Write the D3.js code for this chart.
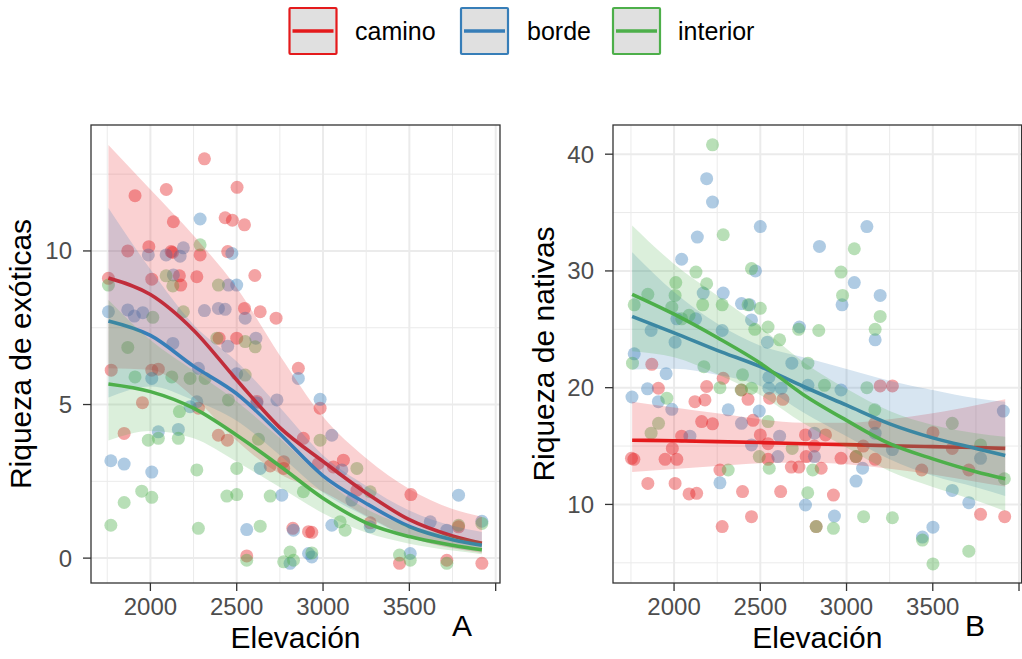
<!DOCTYPE html>
<html><head><meta charset="utf-8">
<script src="https://cdn.jsdelivr.net/npm/d3@7"></script>
<style>html,body{margin:0;padding:0;background:#fff;}svg{display:block;font-family:"Liberation Sans",Arial,sans-serif;}</style>
</head><body>
<svg id="chart" width="1022" height="659"></svg>
<script>
// ---------- DATA ----------
const groups = ["camino", "borde", "interior"];
const groupColors = ["#E41A1C", "#377EB8", "#4DAF4A"];
const xTicks = [2000, 2500, 3000, 3500, 4000];
const xTickLabels = ["2000", "2500", "3000", "3500", ""];
const xMinor = [1750, 2250, 2750, 3250, 3750];
const yTicksA = [0, 5, 10];
const yMinorA = [2.5, 7.5, 12.5];
const yTicksB = [10, 20, 30, 40];
const yMinorB = [5, 15, 25, 35];

// Panel A: riqueza de exóticas  [elevación, riqueza]
const exoCamino = [[2313,13.0],[1911,11.8],[2092,12.0],[2502,12.07],[2133,10.95],[2433,11.08],[2475,11.0],[2545,10.85],[1869,10.0],[1991,10.14],[2120,9.98],[2128,9.95],[2288,9.87],[2448,9.98],[1757,9.11],[2008,9.08],[2168,9.19],[2176,8.89],[2269,9.16],[2605,9.2],[2545,8.13],[2636,8.02],[2728,7.81],[2398,7.16],[2500,7.16],[1773,6.12],[2008,6.12],[2046,6.15],[2857,6.18],[1954,5.06],[2278,4.88],[1848,4.06],[2394,4.0],[2446,3.84],[2694,3.0],[2772,3.14],[2772,2.92],[2886,3.9],[2825,0.97],[2558,0.07],[2916,0.86],[2983,4.88],[2973,3.08],[3060,2.97],[3118,3.19],[3196,2.21],[2935,0.84],[3509,2.07],[3785,1.02],[3443,-0.17],[3717,-0.07],[3920,-0.17],[2617,5.1],[3273,1.15]];
const exoBorde = [[2288,11.04],[2191,10.1],[1988,9.87],[2091,9.87],[2172,9.83],[2472,9.92],[2133,9.22],[2452,8.89],[2500,8.89],[1757,8.02],[1869,8.08],[1907,7.88],[1956,7.99],[2313,8.06],[2394,8.13],[2433,8.1],[2549,7.81],[2130,6.99],[2448,6.9],[2611,7.16],[2278,6.18],[2857,5.85],[2008,5.85],[2500,6.0],[2269,5.09],[2230,4.93],[2046,4.11],[2162,4.19],[1771,3.17],[1848,3.06],[2008,2.8],[2617,5.05],[2733,5.15],[2636,2.92],[2761,2.05],[2558,0.93],[2829,0.91],[2809,-0.17],[2916,0.15],[2983,5.17],[3051,4.0],[3109,2.87],[3167,1.89],[3051,1.07],[3273,1.02],[2935,0.04],[3505,0.15],[3621,1.18],[3717,0.91],[3785,2.05],[3920,1.2]];
const exoInterior = [[2288,10.2],[2091,9.19],[2130,8.86],[1757,8.89],[2394,8.89],[2014,7.84],[2191,8.02],[1869,6.86],[2385,7.16],[2549,7.05],[2607,6.88],[1911,5.9],[2124,5.9],[2230,5.85],[2317,5.85],[2549,5.96],[2168,4.77],[2452,5.15],[1988,3.84],[2046,3.9],[2162,3.9],[2626,3.87],[2269,2.87],[2500,2.92],[1950,2.18],[2008,1.98],[1848,1.81],[2443,2.02],[2500,2.07],[2694,2.02],[1771,1.07],[2278,0.97],[2636,1.04],[2558,-0.07],[2772,-0.12],[2809,0.2],[2829,-0.07],[2886,2.16],[2983,3.84],[3196,2.92],[3099,1.18],[3128,0.91],[3273,2.16],[3443,0.1],[3505,-0.07],[3717,-0.17],[3785,1.07],[3920,1.13],[2935,0.17]];

// Panel B: riqueza de nativas
const natCamino = [[1871,22.0],[1909,19.95],[2189,20.1],[2285,20.8],[2121,18.8],[2179,18.95],[2391,19.8],[2429,19.0],[2554,19.1],[2631,19.0],[2160,17.1],[2223,16.9],[2458,17.2],[2500,15.95],[2044,15.85],[1990,14.8],[1753,13.95],[1767,13.86],[1948,13.86],[2016,13.86],[2266,12.95],[2545,15.2],[2545,13.86],[2680,13.2],[2724,13.2],[2762,15.95],[2766,14.1],[1848,11.8],[2006,11.8],[2087,10.9],[2131,10.95],[2397,11.1],[2618,11.1],[2279,8.1],[2449,8.95],[2824,8.1],[3195,20.15],[3266,20.15],[3164,16.95],[2878,15.95],[3097,15.0],[2853,13.1],[2968,13.95],[3055,14.1],[3166,13.86],[3501,16.15],[3613,14.8],[3436,12.95],[3709,12.95],[2924,10.8],[3777,9.15],[3917,8.95],[2814,15.0]];
const natBorde = [[2189,37.9],[2223,35.9],[2500,33.8],[2135,32.9],[2044,31.0],[2843,32.1],[2472,30.0],[2169,28.1],[2285,28.1],[2391,27.2],[2439,27.1],[2449,25.8],[2016,25.9],[2125,25.9],[1867,24.9],[2279,24.9],[2727,25.2],[2006,23.9],[2541,23.9],[2683,22.1],[1769,22.9],[1954,21.2],[2550,20.9],[3118,33.8],[3045,29.0],[3195,27.9],[2974,27.1],[3166,24.1],[1756,19.2],[1846,19.9],[1909,18.8],[1987,18.15],[2092,15.85],[2314,18.1],[2391,16.95],[2449,15.1],[2494,18.0],[2550,19.95],[2621,19.95],[2612,15.85],[2602,14.1],[2266,11.85],[2762,9.95],[2776,20.2],[2814,14.1],[2968,19.8],[2814,16.1],[3093,13.1],[3055,12.0],[3166,16.1],[3266,14.7],[2930,9.0],[3440,7.2],[3501,8.05],[3613,11.2],[3709,10.15],[3777,13.95],[3909,18.0]];
const natInterior = [[2223,40.8],[2285,33.1],[2127,29.9],[2449,30.2],[2189,28.9],[2010,29.0],[1848,28.0],[1769,27.1],[2006,27.9],[2166,27.1],[2279,27.1],[1987,26.9],[2500,26.8],[2429,27.1],[2087,26.2],[2044,25.9],[2545,25.2],[2468,25.0],[2612,24.1],[2722,25.0],[2776,22.1],[2173,21.8],[1759,22.1],[2839,24.9],[2397,21.1],[2266,20.0],[2389,19.8],[2449,19.95],[1958,19.1],[1910,16.95],[1867,16.1],[2314,12.95],[2545,17.1],[2494,14.1],[2552,13.1],[2685,14.8],[2804,12.95],[2775,11.0],[2824,8.1],[3045,31.9],[2968,29.9],[2977,27.9],[3195,26.1],[3166,25.0],[2872,20.2],[3118,20.0],[3164,18.1],[3055,14.1],[3613,16.95],[3777,15.1],[3915,12.2],[2924,7.95],[3099,8.95],[3266,8.86],[3440,6.95],[3709,6.0],[3501,4.9]];

// Smooth fits (elevación, ajuste, IC inferior, IC superior)
const fitElev = [1757, 2000, 2250, 2500, 2750, 3000, 3250, 3500, 3750, 3920];
const exoCaminoFit = [9.12, 8.58, 7.42, 5.8, 4.25, 3.15, 2.12, 1.25, 0.72, 0.48];
const exoCaminoLo  = [6.18, 6.13, 5.24, 3.82, 2.74, 2.16, 1.38, 0.69, 0.32, 0.17];
const exoCaminoHi  = [13.45, 12.0, 10.5, 8.8, 6.6, 4.6, 3.25, 2.25, 1.6, 1.35];
const exoBordeFit = [7.72, 7.25, 6.25, 5.35, 4.05, 2.68, 1.78, 1.03, 0.6, 0.42];
const exoBordeLo  = [5.23, 5.59, 5.14, 4.47, 3.35, 2.14, 1.35, 0.68, 0.34, 0.21];
const exoBordeHi  = [11.4, 9.4, 7.6, 6.4, 4.9, 3.35, 2.35, 1.55, 1.05, 0.85];
const exoInteriorFit = [5.67, 5.42, 4.88, 4.0, 3.0, 1.95, 1.15, 0.7, 0.42, 0.27];
const exoInteriorLo  = [3.83, 4.14, 3.9, 3.14, 2.31, 1.46, 0.83, 0.47, 0.245, 0.13];
const exoInteriorHi  = [8.4, 7.1, 6.1, 5.1, 3.9, 2.6, 1.6, 1.05, 0.72, 0.55];

const natCaminoFit = [15.5, 15.45, 15.38, 15.3, 15.2, 15.12, 15.03, 14.95, 14.87, 14.8];
const natCaminoLo  = [12.78, 13.04, 13.29, 13.53, 13.59, 13.45, 13.06, 12.56, 11.95, 11.53];
const natCaminoHi  = [18.8, 18.3, 17.8, 17.3, 17.0, 17.0, 17.3, 17.8, 18.5, 19.0];
const natBordeFit = [26.1, 24.7, 23.2, 21.8, 20.1, 18.5, 16.9, 15.7, 14.8, 14.2];
const natBordeLo  = [21.56, 21.63, 21.1, 20.14, 17.88, 15.84, 13.86, 12.45, 11.47, 10.72];
const natBordeHi  = [31.6, 28.2, 25.5, 23.6, 22.6, 21.6, 20.6, 19.8, 19.1, 18.8];
const natInteriorFit = [28.0, 26.3, 24.3, 22.1, 19.4, 17.2, 15.2, 13.9, 12.8, 12.2];
const natInteriorLo  = [23.13, 22.6, 21.16, 19.38, 16.95, 14.87, 12.84, 11.5, 10.33, 9.42];
const natInteriorHi  = [33.9, 30.6, 27.9, 25.2, 22.2, 19.9, 18.0, 16.8, 16.1, 15.8];

// ---------- DRAW ----------
const svg = d3.select("#chart");
const FONT = '"Liberation Sans", Arial, sans-serif';

function drawPanel(cfg) {
  const x = d3.scaleLinear().domain(cfg.xDomain).range([cfg.left, cfg.right]);
  const y = d3.scaleLinear().domain(cfg.yDomain).range([cfg.bottom, cfg.top]);
  const g = svg.append("g");
  const clipId = "clip" + cfg.tag;
  svg.append("defs").append("clipPath").attr("id", clipId)
    .append("rect").attr("x", cfg.left).attr("y", cfg.top)
    .attr("width", cfg.right - cfg.left).attr("height", cfg.bottom - cfg.top);
  const inner = g.append("g").attr("clip-path", `url(#${clipId})`);

  inner.selectAll(".vminor").data(xMinor).join("line")
    .attr("x1", d => x(d)).attr("x2", d => x(d)).attr("y1", cfg.top).attr("y2", cfg.bottom)
    .attr("stroke", "#ebebeb").attr("stroke-width", 1);
  inner.selectAll(".hminor").data(cfg.yMinor).join("line")
    .attr("y1", d => y(d)).attr("y2", d => y(d)).attr("x1", cfg.left).attr("x2", cfg.right)
    .attr("stroke", "#ebebeb").attr("stroke-width", 1);
  inner.selectAll(".vmajor").data(xTicks).join("line")
    .attr("x1", d => x(d)).attr("x2", d => x(d)).attr("y1", cfg.top).attr("y2", cfg.bottom)
    .attr("stroke", "#ebebeb").attr("stroke-width", 2);
  inner.selectAll(".hmajor").data(cfg.yTicks).join("line")
    .attr("y1", d => y(d)).attr("y2", d => y(d)).attr("x1", cfg.left).attr("x2", cfg.right)
    .attr("stroke", "#ebebeb").attr("stroke-width", 2);

  cfg.points.forEach((pts, i) => {
    inner.append("g").selectAll("circle").data(pts).join("circle")
      .attr("cx", d => x(d[0])).attr("cy", d => y(d[1])).attr("r", 6.5)
      .attr("fill", groupColors[i]).attr("fill-opacity", 0.4);
  });

  cfg.fits.forEach((f, i) => {
    const rows = fitElev.map((e, k) => ({e, fit: f.fit[k], lo: f.lo[k], hi: f.hi[k]}));
    const area = d3.area().x(d => x(d.e)).y0(d => y(d.lo)).y1(d => y(d.hi)).curve(d3.curveMonotoneX);
    const line = d3.line().x(d => x(d.e)).y(d => y(d.fit)).curve(d3.curveMonotoneX);
    inner.append("path").datum(rows).attr("d", area)
      .attr("fill", groupColors[i]).attr("fill-opacity", 0.2);
    inner.append("path").datum(rows).attr("d", line)
      .attr("fill", "none").attr("stroke", groupColors[i]).attr("stroke-width", 3.6);
  });

  g.append("rect").attr("x", cfg.left).attr("y", cfg.top)
    .attr("width", cfg.right - cfg.left).attr("height", cfg.bottom - cfg.top)
    .attr("fill", "none").attr("stroke", "#333333").attr("stroke-width", 1.3);

  const xa = g.append("g");
  xa.selectAll("line").data(xTicks).join("line")
    .attr("x1", d => x(d)).attr("x2", d => x(d)).attr("y1", cfg.bottom).attr("y2", cfg.bottom + 8)
    .attr("stroke", "#333333").attr("stroke-width", 1.3);
  xa.selectAll("text").data(xTicks).join("text")
    .attr("x", d => x(d)).attr("y", cfg.bottom + 32)
    .attr("text-anchor", "middle").attr("font-size", 24).attr("fill", "#4d4d4d")
    .attr("font-family", FONT)
    .text((d, i) => xTickLabels[i]);
  const ya = g.append("g");
  ya.selectAll("line").data(cfg.yTicks).join("line")
    .attr("x1", cfg.left - 8).attr("x2", cfg.left).attr("y1", d => y(d)).attr("y2", d => y(d))
    .attr("stroke", "#333333").attr("stroke-width", 1.3);
  ya.selectAll("text").data(cfg.yTicks).join("text")
    .attr("x", cfg.left - 19).attr("y", d => y(d) + 8.5)
    .attr("text-anchor", "end").attr("font-size", 24).attr("fill", "#4d4d4d")
    .attr("font-family", FONT)
    .text(d => d);

  g.append("text").attr("x", (cfg.left + cfg.right) / 2).attr("y", 648)
    .attr("text-anchor", "middle").attr("font-size", 30).attr("fill", "#000")
    .attr("font-family", FONT).text("Elevación");
  g.append("text")
    .attr("transform", `translate(${cfg.ytitleX},${(cfg.top + cfg.bottom) / 2}) rotate(-90)`)
    .attr("text-anchor", "middle").attr("font-size", 30).attr("fill", "#000")
    .attr("font-family", FONT).text(cfg.ytitle);
  g.append("text").attr("x", cfg.tagX).attr("y", 636)
    .attr("text-anchor", "middle").attr("font-size", 30).attr("fill", "#000")
    .attr("font-family", FONT).text(cfg.tag);
}

drawPanel({
  tag: "A", tagX: 462,
  left: 91, right: 500, top: 125, bottom: 583,
  xDomain: [1656, 4025], yDomain: [-0.81, 14.1],
  yTicks: yTicksA, yMinor: yMinorA,
  ytitle: "Riqueza de exóticas", ytitleX: 31,
  points: [exoCamino, exoBorde, exoInterior],
  fits: [
    {fit: exoCaminoFit, lo: exoCaminoLo, hi: exoCaminoHi},
    {fit: exoBordeFit, lo: exoBordeLo, hi: exoBordeHi},
    {fit: exoInteriorFit, lo: exoInteriorLo, hi: exoInteriorHi}
  ]
});
drawPanel({
  tag: "B", tagX: 975,
  left: 613, right: 1021.6, top: 125, bottom: 583,
  xDomain: [1646, 4015], yDomain: [3.27, 42.5],
  yTicks: yTicksB, yMinor: yMinorB,
  ytitle: "Riqueza de nativas", ytitleX: 554,
  points: [natCamino, natBorde, natInterior],
  fits: [
    {fit: natCaminoFit, lo: natCaminoLo, hi: natCaminoHi},
    {fit: natBordeFit, lo: natBordeLo, hi: natBordeHi},
    {fit: natInteriorFit, lo: natInteriorLo, hi: natInteriorHi}
  ]
});

const legendX = [289.5, 461, 613];
const legendTextX = [355, 527, 678];
const lg = svg.append("g");
groups.forEach((name, i) => {
  const gx = legendX[i];
  lg.append("rect").attr("x", gx).attr("y", 8).attr("width", 47).attr("height", 46)
    .attr("fill", "#e0e0e0").attr("stroke", groupColors[i]).attr("stroke-width", 2.2).attr("rx", 1);
  lg.append("line").attr("x1", gx + 3).attr("x2", gx + 44).attr("y1", 31).attr("y2", 31)
    .attr("stroke", groupColors[i]).attr("stroke-width", 3.6);
  lg.append("text").attr("x", legendTextX[i]).attr("y", 40)
    .attr("font-size", 25).attr("fill", "#000").attr("font-family", FONT).text(name);
});
</script>
</body></html>
